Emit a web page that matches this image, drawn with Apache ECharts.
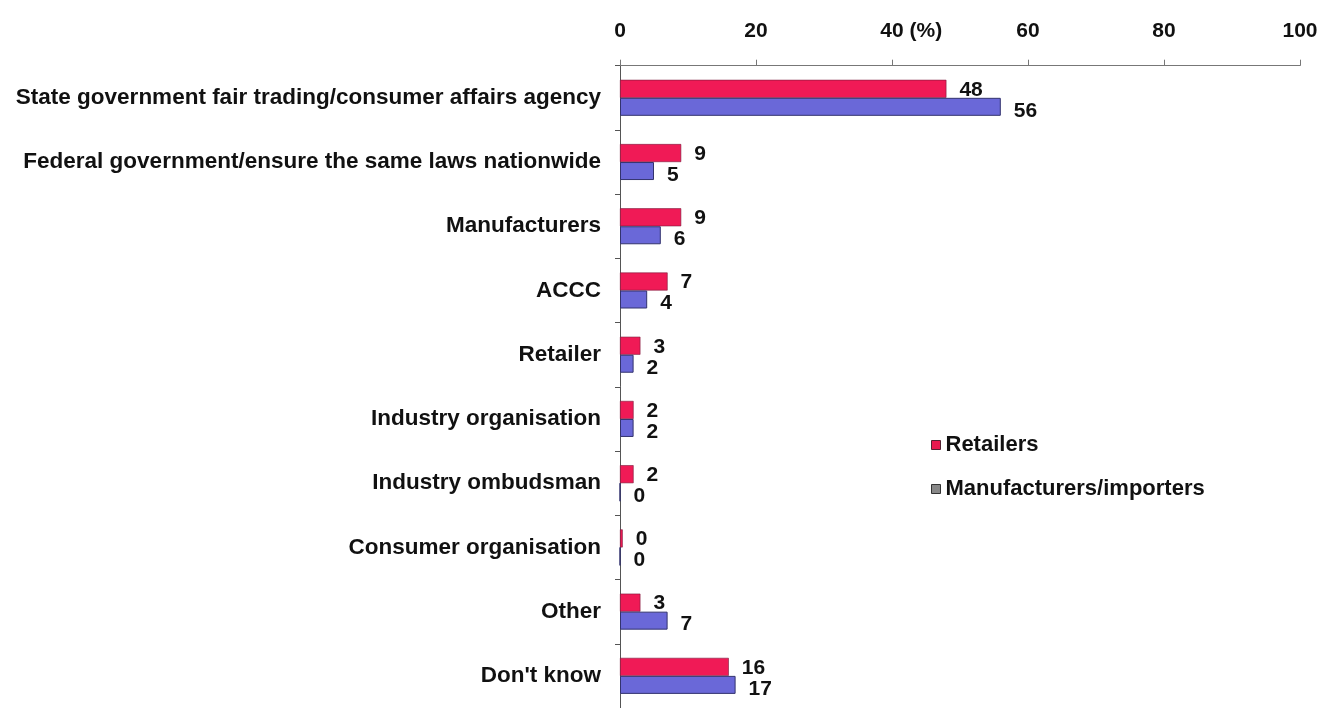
<!DOCTYPE html>
<html><head><meta charset="utf-8">
<script src="https://cdn.jsdelivr.net/npm/echarts@6/dist/echarts.min.js"></script>
<style>html,body{margin:0;padding:0;background:#fff}#c{width:1337px;height:708px}</style>
</head><body><div id="c"></div>
<script>
const categories = [
  "State government fair trading/consumer affairs agency",
  "Federal government/ensure the same laws nationwide",
  "Manufacturers",
  "ACCC",
  "Retailer",
  "Industry organisation",
  "Industry ombudsman",
  "Consumer organisation",
  "Other",
  "Don't know"
];
const retailers = [48, 9, 9, 7, 3, 2, 2, 0.4, 3, 16];
const manufacturers = [56, 5, 6, 4, 2, 2, 0, 0, 7, 17];
const xTicks = [0, 20, 40, 60, 80, 100];
const unitLabel = '(%)';

const font = 'Liberation Sans, Arial, sans-serif';
const axisFontSize = 21;
// measure the width of the unit suffix so that the "40" stays centred on its tick
const ctx = document.createElement('canvas').getContext('2d');
ctx.font = 'bold ' + axisFontSize + 'px ' + font;
const suffixW = ctx.measureText(' ' + unitLabel).width;

const chart = echarts.init(document.getElementById('c'));
chart.setOption({
  animation: false,
  backgroundColor: '#fff',
  grid: { left: 620, right: 37, top: 65.7, height: 646.7, containLabel: false },
  legend: {
    orient: 'vertical', left: 926, top: 429, itemGap: 22,
    itemWidth: 9, itemHeight: 9,
    textStyle: { fontFamily: font, fontSize: 22, color: '#111', fontWeight: 'bold' },
    data: [
      { name: 'Retailers', icon: 'rect', itemStyle: { color: '#e8194f', borderColor: '#552233', borderWidth: 1 } },
      { name: 'Manufacturers/importers', icon: 'rect', itemStyle: { color: '#888888', borderColor: '#333', borderWidth: 1 } }
    ]
  },
  xAxis: {
    type: 'value', position: 'top', min: xTicks[0], max: xTicks[xTicks.length - 1],
    interval: xTicks[1] - xTicks[0],
    axisLine: { show: true, lineStyle: { color: '#777', width: 1 } },
    axisTick: { show: true, length: 6, lineStyle: { color: '#777' } },
    splitLine: { show: false },
    axisLabel: {
      margin: 24, fontFamily: font, fontSize: axisFontSize, fontWeight: 'bold', color: '#111',
      formatter: v => v === 40 ? '{pad|}40 ' + unitLabel : String(v),
      rich: { pad: { width: suffixW } }
    }
  },
  yAxis: {
    type: 'category', inverse: true, data: categories,
    axisLine: { show: true, lineStyle: { color: '#555', width: 1 } },
    axisTick: { show: true, length: 5, lineStyle: { color: '#555' } },
    axisLabel: { margin: 19, fontFamily: font, fontSize: 22.5, fontWeight: 'bold', color: '#111' }
  },
  series: [
    {
      name: 'Retailers', type: 'bar', data: retailers, barWidth: 18, barGap: '0%',
      itemStyle: { color: '#f01a56', borderColor: '#7a1a3a', borderWidth: 0.6 },
      label: { show: true, position: 'right', distance: 13, offset: [0, 1],
        fontFamily: font, fontSize: 21, fontWeight: 'bold', color: '#111',
        formatter: p => Math.round(p.value) }
    },
    {
      name: 'Manufacturers/importers', type: 'bar', data: manufacturers, barWidth: 18,
      itemStyle: { color: '#6a68d8', borderColor: '#33336e', borderWidth: 1 },
      label: { show: true, position: 'right', distance: 13, offset: [0, 4],
        fontFamily: font, fontSize: 21, fontWeight: 'bold', color: '#111',
        formatter: p => Math.round(p.value) }
    }
  ]
});
</script></body></html>
